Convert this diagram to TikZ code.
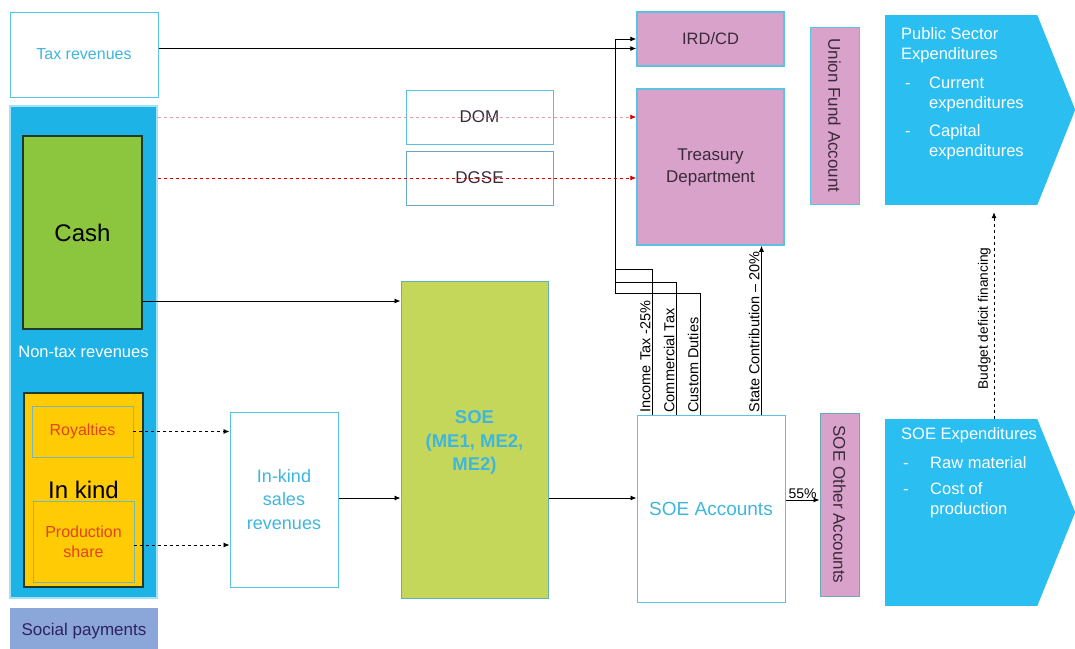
\documentclass[tikz,border=0pt]{standalone}
\usepackage{fontspec}
\setmainfont{Liberation Sans}
\usetikzlibrary{arrows.meta,positioning,calc}
\definecolor{skyfill}{HTML}{1DB3E6}
\definecolor{expblue}{HTML}{2BBEF0}
\definecolor{edge}{HTML}{5BC3E2}
\definecolor{pinkfill}{HTML}{D9A2CB}
\definecolor{leaf}{HTML}{8CC63E}
\definecolor{gold}{HTML}{FFCB05}
\definecolor{lime}{HTML}{C4D75B}
\definecolor{periwinkle}{HTML}{8BA6D9}
\definecolor{txtblue}{HTML}{3FB6DE}
\definecolor{ink}{HTML}{3A2A3A}
\definecolor{royalred}{HTML}{E2431E}
\definecolor{darkline}{HTML}{1F3A2A}
\definecolor{domline}{HTML}{D8A0A0}
\newcommand{\fsz}[2]{\fontsize{#1}{#2}\selectfont}
\tikzset{
  >={Latex[length=6pt,width=5pt]},
  flow/.style={->,draw=black,line width=0.9pt},
  link/.style={draw=black,line width=0.9pt},
  dashflow/.style={->,draw=black,dashed,line width=0.8pt},
  redflow/.style={-{Latex[length=6pt,width=5pt,color=red!85!black]},draw=red!85!black,dashed,line width=0.8pt},
  box/.style={draw=edge,line width=1pt,inner sep=2pt,align=center,font=\fsz{17}{20}},
  whitebox/.style={box,fill=white,text=txtblue},
  pinkbox/.style={box,fill=pinkfill,text=ink,line width=1.5pt},
  kindbox/.style={box,draw=darkline,line width=1.2pt,font=\fsz{24}{28}},
  subbox/.style={box,fill=gold,draw=teal!55,line width=0.8pt,text=royalred,font=\fsz{16}{20}},
  expbody/.style={fill=expblue,draw=none,inner sep=0pt},
  exptext/.style={anchor=north west,inner sep=0pt,text=white,font=\fsz{16.5}{20}},
  vlabel/.style={rotate=90,anchor=south west,inner sep=1.5pt,font=\fsz{14.5}{16}}
}

\begin{document}
\begin{tikzpicture}[x=1pt,y=-1pt]
  \useasboundingbox (0,0) rectangle (1075,648);
  % revenue side
  \node[whitebox,minimum width=148,minimum height=85,font=\fsz{16}{20}] (tax) at (84,54.5) {Tax revenues};
  \node[box,fill=skyfill,draw=skyfill!40,line width=1.5pt,minimum width=147,minimum height=492,text=white,font=\fsz{16.5}{20}] (nontax) at (83.5,352) {Non-tax revenues};
  \node[kindbox,fill=leaf,minimum width=119,minimum height=193] (cash) at (82.5,232.5) {Cash};
  \node[kindbox,fill=gold,minimum width=119,minimum height=194] (inkind) at (83.5,490) {In kind};
  \node[subbox,minimum width=101,minimum height=51] (royal) at (82.5,431.5) {Royalties};
  \node[subbox,minimum width=101,minimum height=81] (prod) at (83.5,541.5) {Production\\share};
  \node[box,fill=periwinkle,draw=none,minimum width=148,minimum height=46,text=ink!80!blue] (social) at (84,631) {Social payments};
  % middle
  \node[whitebox,minimum width=108,minimum height=175,font=\fsz{18}{23.5}] (kindsales) at (284,499.5) {In-kind\\sales\\revenues};
  \node[box,fill=lime,draw=teal!60,minimum width=147,minimum height=317,text=txtblue,font=\bfseries\fsz{18.5}{23.5}] (soe) at (474.5,439.5) {\\[-4pt]SOE\\(ME1, ME2,\\ME2)};
  \node[whitebox,text=ink,minimum width=147,minimum height=54] (dom) at (479.5,117) {DOM};
  \node[whitebox,text=ink,draw=edge!60!gray,minimum width=147,minimum height=54] (dgse) at (479.5,178) {DGSE};
  % government and SOE accounts
  \node[pinkbox,minimum width=147,minimum height=54,font=\fsz{16.5}{20}] (irdcd) at (710.5,39) {IRD/CD};
  \node[pinkbox,minimum width=147,minimum height=156,font=\fsz{17}{22}] (treasury) at (710.5,167) {Treasury\\Department};
  \node[whitebox,minimum width=148,minimum height=187,font=\fsz{19}{22}] (soeacc) at (711,508.5) {SOE Accounts};
  \node[pinkbox,rotate=-90,line width=1pt,draw=edge!60!gray,minimum width=183,minimum height=39] (soeother) at (839.5,504.5) {SOE Other Accounts};
  \node[pinkbox,rotate=-90,line width=1pt,minimum width=177,minimum height=49] (union) at (834.5,115.5) {Union Fund Account};
  % expenditures
  \node[expbody,minimum width=152,minimum height=190] (pubexp) at (961,110) {};
  \fill[expblue] (pubexp.north east) -- ++(38,95) -- (pubexp.south east) -- cycle;
  \node[expbody,minimum width=152,minimum height=187] (soeexp) at (961,512.5) {};
  \fill[expblue] (soeexp.north east) -- ++(38,93.5) -- (soeexp.south east) -- cycle;
  \node[exptext] (pubtxt) at (901,25) {\begin{tabular}{@{}p{28pt}@{}l@{}}
    \multicolumn{2}{@{}l@{}}{Public Sector}\\
    \multicolumn{2}{@{}l@{}}{Expenditures}\\[9pt]
    \hspace*{4pt}- & Current\\
     & expenditures\\[8pt]
    \hspace*{4pt}- & Capital\\
     & expenditures
  \end{tabular}};
  \node[exptext] (soetxt) at (901,425) {\begin{tabular}{@{}p{29pt}@{}l@{}}
    \multicolumn{2}{@{}l@{}}{SOE Expenditures}\\[9pt]
    \hspace*{2pt}- & Raw material\\[6pt]
    \hspace*{2pt}- & Cost of\\
     & production
  \end{tabular}};
  % flows
  \draw[flow] ([yshift=6]tax.east) -- ([yshift=6]tax.east -| irdcd.west);
  \draw[redflow,draw=domline] (nontax.east |- dom) -- (treasury.west |- dom);
  \draw[redflow] (nontax.east |- dgse) -- (treasury.west |- dgse);
  \draw[flow] (cash.east |- 0,301) -- (soe.west |- 0,301);
  \draw[dashflow] (royal.east) -- (kindsales.west |- royal.east);
  \draw[dashflow] (prod.east |- 0,545) -- (kindsales.west |- 0,545);
  \draw[flow] (kindsales.east |- 0,498) -- (soe.west |- 0,498);
  \draw[flow] (soe.east |- 0,498) -- (soeacc.west |- 0,498);
  % taxes paid by the SOE
  \draw[link] ([xshift=16]soeacc.north west) node[vlabel] {Income Tax -25\%} |- (615,269);
  \draw[link] ([xshift=40]soeacc.north west) node[vlabel] {Commercial Tax} |- (615,282);
  \draw[flow] ([xshift=64]soeacc.north west) node[vlabel] {Custom Duties} |- (615,293) |- (irdcd.west);
  \coordinate (state) at ([xshift=-24]soeacc.north east);
  \draw[flow] (state) node[vlabel] {State Contribution \textendash{} 20\%} -- (state |- treasury.south);
  \draw[flow] (soeacc.east |- 0,500) -- node[above,inner sep=1pt,font=\fsz{14}{16}] {55\%} (soeother.south |- 0,500);
  \draw[dashflow,shorten >=7pt] ([xshift=33]soeexp.north) -- node[pos=0.47,rotate=90,anchor=south,inner sep=3pt,font=\fsz{13.7}{16}] {Budget deficit financing} ([xshift=33]pubexp.south);
\end{tikzpicture}
\end{document}
